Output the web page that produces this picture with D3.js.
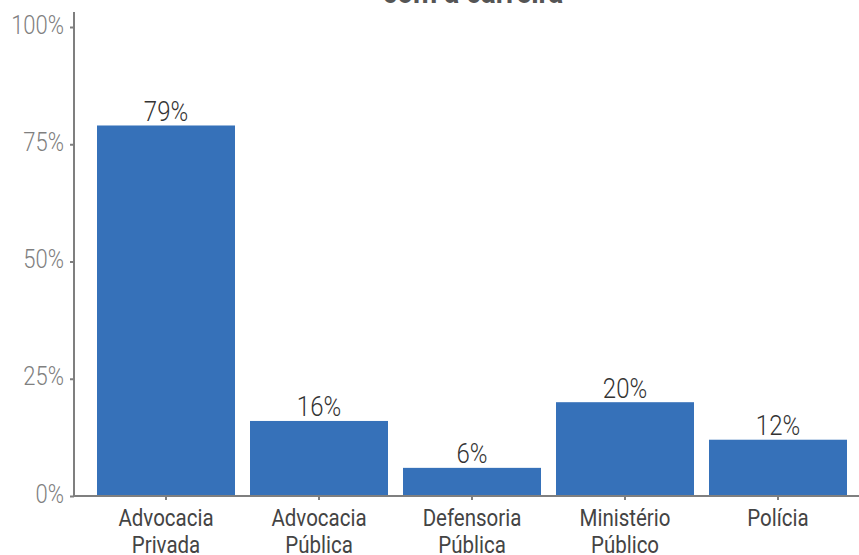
<!DOCTYPE html>
<html>
<head>
<meta charset="utf-8">
<script src="https://cdn.jsdelivr.net/npm/d3@7"></script>
<style>
  html, body { margin: 0; padding: 0; background: #fff; }
  svg { display: block; }
</style>
</head>
<body>
<svg id="chart" width="859" height="555"></svg>
<script>
// Share of respondents by career
const categories = [
  ["Advocacia", "Privada"],
  ["Advocacia", "Pública"],
  ["Defensoria", "Pública"],
  ["Ministério", "Público"],
  ["Polícia"]
];
const values = [79, 16, 6, 20, 12];
const yTicks = [0, 25, 50, 75, 100];
const titleText = "com a carreira";

const svg = d3.select("#chart");

const plotLeft = 74, plotRight = 859, plotTop = 12, plotBottom = 496;
const stretch = 1.17; // glyphs are drawn slightly taller than wide

const x = d3.scaleBand()
  .domain(categories.map((c, i) => i))
  .range([89.5, 854.5])
  .paddingInner(15 / 153)
  .paddingOuter(7.5 / 153);

const y = d3.scaleLinear().domain([0, 100]).range([plotBottom, 27]);

const place = (tx, ty) => `translate(${tx},${ty}) scale(1,${stretch})`;

// title (only the tail of it falls inside the frame)
svg.append("text")
  .attr("transform", place(473, 2.5))
  .attr("text-anchor", "middle")
  .attr("font-family", "Roboto, 'Noto Sans', sans-serif")
  .attr("font-weight", 700)
  .attr("font-size", 28)
  .attr("fill", "#555")
  .text(titleText);

// bars
svg.append("g").selectAll("rect")
  .data(values)
  .join("rect")
  .attr("x", (d, i) => x(i))
  .attr("width", x.bandwidth())
  .attr("y", d => y(d))
  .attr("height", d => y(0) - y(d))
  .attr("fill", "#3671b9");

// value labels
svg.append("g").selectAll("text")
  .data(values)
  .join("text")
  .attr("transform", (d, i) => place(x(i) + x.bandwidth() / 2, y(d) - 4.5))
  .attr("text-anchor", "middle")
  .attr("font-family", "Roboto, sans-serif")
  .attr("font-weight", 300)
  .attr("font-size", 24)
  .attr("fill", "#333")
  .text(d => d + "%");

// y axis
const yAxis = svg.append("g")
  .attr("transform", `translate(${plotLeft},0)`)
  .call(d3.axisLeft(y).tickValues(yTicks).tickFormat(d => d + "%").tickSize(4).tickPadding(7));
yAxis.select(".domain").attr("d", `M0,${plotTop}V${plotBottom}`);
yAxis.selectAll("line, path").attr("stroke", "#7f7f7f").attr("stroke-width", 2);
yAxis.selectAll("text")
  .attr("x", null).attr("y", null).attr("dy", null)
  .attr("transform", place(-10, 6))
  .attr("font-family", "Roboto, sans-serif")
  .attr("font-weight", 300)
  .attr("font-size", 22)
  .attr("fill", "#808080");

// x axis
const xAxis = svg.append("g")
  .attr("transform", `translate(0,${plotBottom})`)
  .call(d3.axisBottom(x).tickSize(4).tickFormat(""));
xAxis.select(".domain").attr("d", `M${plotLeft},0H${plotRight}`);
xAxis.selectAll("line, path").attr("stroke", "#7f7f7f").attr("stroke-width", 2);

// category labels, one tspan per line
const catLabels = svg.append("g").selectAll("text")
  .data(categories)
  .join("text")
  .attr("transform", (d, i) => place(x(i) + x.bandwidth() / 2, plotBottom + 30))
  .attr("text-anchor", "middle")
  .attr("font-family", "Roboto, sans-serif")
  .attr("font-size", 20.5)
  .attr("fill", "#444");
catLabels.selectAll("tspan")
  .data(d => d)
  .join("tspan")
  .attr("x", 0)
  .attr("dy", (d, i) => i === 0 ? 0 : 27.5 / stretch)
  .text(d => d);
</script>
</body>
</html>
